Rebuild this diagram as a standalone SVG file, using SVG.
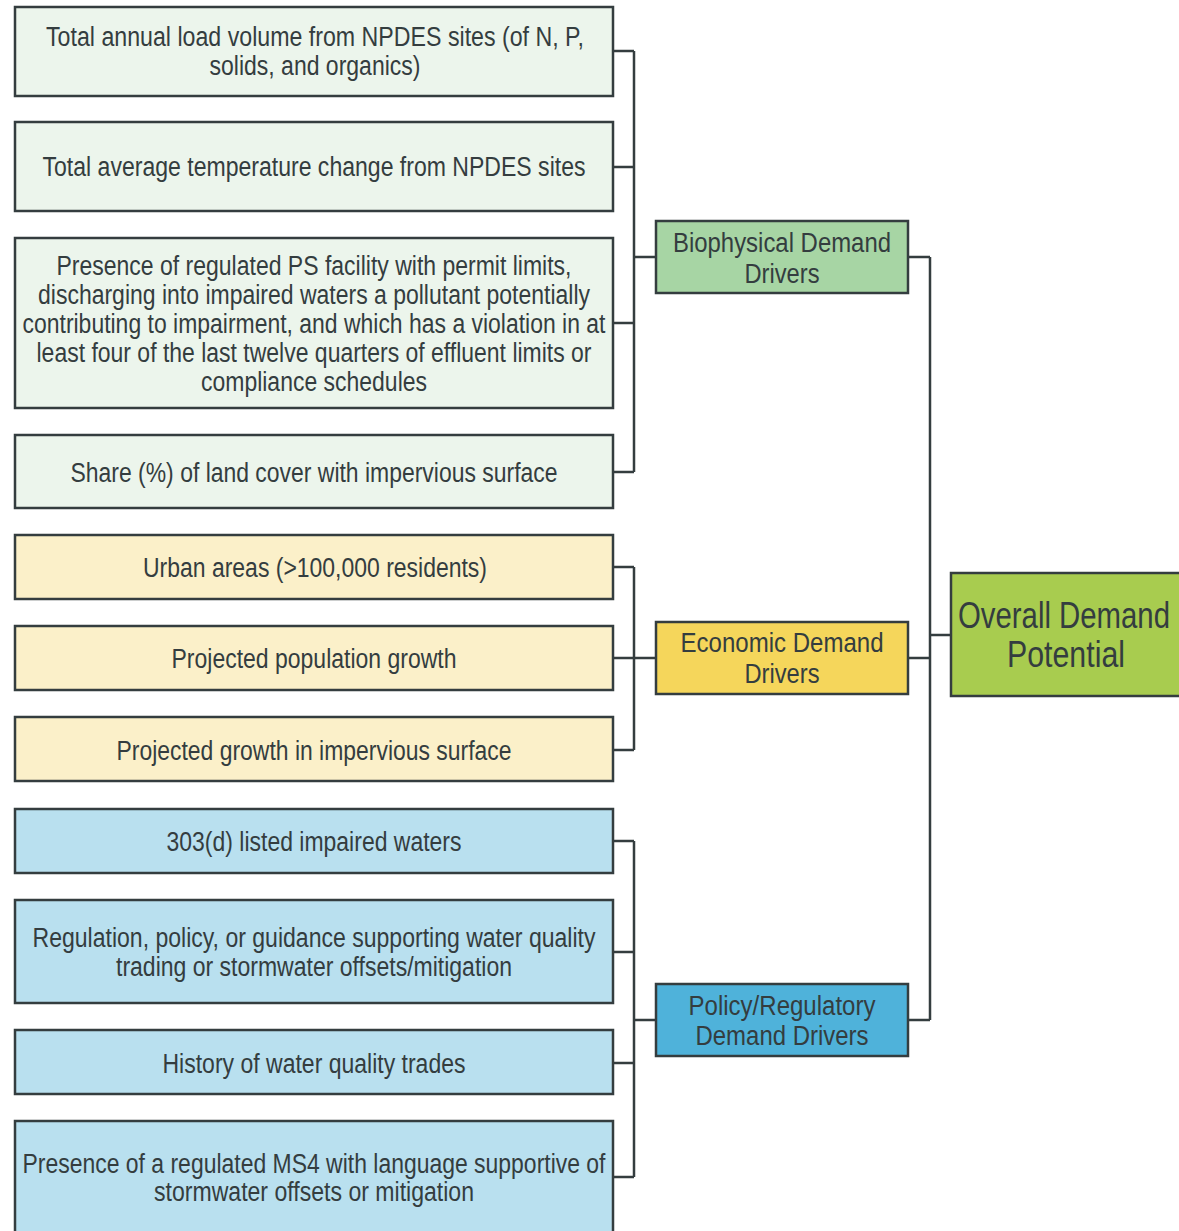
<svg xmlns="http://www.w3.org/2000/svg" width="1179" height="1231" viewBox="0 0 1179 1231">
<style>
.box{stroke:#343d3f;stroke-width:2.5}
.g1{fill:#ecf5ec}.y1{fill:#fbf0c9}.b1{fill:#b9e0ef}
.bio{fill:#a7d5a4}.eco{fill:#f5d65b}.pol{fill:#4fb2da}.ovr{fill:#a8cc4f}
text{font-family:"Liberation Sans Narrow","Liberation Sans",Arial,sans-serif;font-size:27px;fill:#343d3f;text-anchor:middle}
.big{font-size:36px}
.con{fill:none;stroke:#343d3f;stroke-width:2.5}
</style>
<rect width="1179" height="1231" fill="#ffffff"/>
<g id="connectors">
<path class="con" d="M613,51H634M613,167H634M613,323H634M613,472H634M634,51V472M634,257H656"/>
<path class="con" d="M613,567H634M613,658H634M613,750H634M634,567V750M634,658H656"/>
<path class="con" d="M613,841H634M613,952H634M613,1063H634M613,1177H634M634,841V1177M634,1020H656"/>
<path class="con" d="M908,257H930M908,658H930M908,1020H930M930,257V1020M930,635H951"/>
</g>
<g id="n1"><rect class="box g1" x="15" y="7" width="598" height="89"/><text x="315" y="46" textLength="538" lengthAdjust="spacingAndGlyphs">Total annual load volume from NPDES sites (of N, P,</text><text x="315" y="75" textLength="211" lengthAdjust="spacingAndGlyphs">solids, and organics)</text></g>
<g id="n2"><rect class="box g1" x="15" y="122" width="598" height="89"/><text x="314" y="176" textLength="543" lengthAdjust="spacingAndGlyphs">Total average temperature change from NPDES sites</text></g>
<g id="n3"><rect class="box g1" x="15" y="238" width="598" height="170"/><text x="314" y="275" textLength="515" lengthAdjust="spacingAndGlyphs">Presence of regulated PS facility with permit limits,</text><text x="314" y="304" textLength="552" lengthAdjust="spacingAndGlyphs">discharging into impaired waters a pollutant potentially</text><text x="314" y="333" textLength="583" lengthAdjust="spacingAndGlyphs">contributing to impairment, and which has a violation in at</text><text x="314" y="362" textLength="555" lengthAdjust="spacingAndGlyphs">least four of the last twelve quarters of effluent limits or</text><text x="314" y="391" textLength="226" lengthAdjust="spacingAndGlyphs">compliance schedules</text></g>
<g id="n4"><rect class="box g1" x="15" y="435" width="598" height="73"/><text x="314" y="482" textLength="487" lengthAdjust="spacingAndGlyphs">Share (%) of land cover with impervious surface</text></g>
<g id="n5"><rect class="box y1" x="15" y="535" width="598" height="64"/><text x="315" y="577" textLength="344" lengthAdjust="spacingAndGlyphs">Urban areas (&gt;100,000 residents)</text></g>
<g id="n6"><rect class="box y1" x="15" y="626" width="598" height="64"/><text x="314" y="668" textLength="285" lengthAdjust="spacingAndGlyphs">Projected population growth</text></g>
<g id="n7"><rect class="box y1" x="15" y="717" width="598" height="64"/><text x="314" y="760" textLength="395" lengthAdjust="spacingAndGlyphs">Projected growth in impervious surface</text></g>
<g id="n8"><rect class="box b1" x="15" y="809" width="598" height="64"/><text x="314" y="851" textLength="295" lengthAdjust="spacingAndGlyphs">303(d) listed impaired waters</text></g>
<g id="n9"><rect class="box b1" x="15" y="900" width="598" height="103"/><text x="314" y="947" textLength="563" lengthAdjust="spacingAndGlyphs">Regulation, policy, or guidance supporting water quality</text><text x="314" y="976" textLength="396" lengthAdjust="spacingAndGlyphs">trading or stormwater offsets/mitigation</text></g>
<g id="n10"><rect class="box b1" x="15" y="1030" width="598" height="64"/><text x="314" y="1073" textLength="303" lengthAdjust="spacingAndGlyphs">History of water quality trades</text></g>
<g id="n11"><rect class="box b1" x="15" y="1121" width="598" height="120"/><text x="314" y="1173" textLength="583" lengthAdjust="spacingAndGlyphs">Presence of a regulated MS4 with language supportive of</text><text x="314" y="1201" textLength="320" lengthAdjust="spacingAndGlyphs">stormwater offsets or mitigation</text></g>
<g id="bio"><rect class="box bio" x="656" y="221" width="252" height="72"/><text x="782" y="252" textLength="218" lengthAdjust="spacingAndGlyphs">Biophysical Demand</text><text x="782" y="283" textLength="75" lengthAdjust="spacingAndGlyphs">Drivers</text></g>
<g id="eco"><rect class="box eco" x="656" y="622" width="252" height="72"/><text x="782" y="652" textLength="203" lengthAdjust="spacingAndGlyphs">Economic Demand</text><text x="782" y="683" textLength="75" lengthAdjust="spacingAndGlyphs">Drivers</text></g>
<g id="pol"><rect class="box pol" x="656" y="984" width="252" height="72"/><text x="782" y="1015" textLength="187" lengthAdjust="spacingAndGlyphs">Policy/Regulatory</text><text x="782" y="1045" textLength="173" lengthAdjust="spacingAndGlyphs">Demand Drivers</text></g>
<g id="ovr"><rect class="box ovr" x="951" y="573" width="240" height="123"/><text class="big" x="1064" y="628" textLength="212" lengthAdjust="spacingAndGlyphs">Overall Demand</text><text class="big" x="1066" y="667" textLength="118" lengthAdjust="spacingAndGlyphs">Potential</text></g>
</svg>
